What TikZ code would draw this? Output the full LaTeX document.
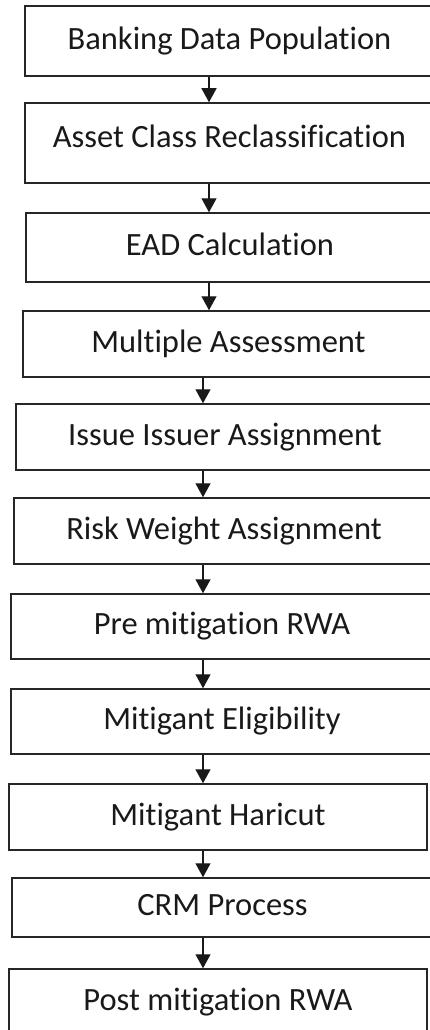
\documentclass[tikz,border=0pt]{standalone}
\usepackage{fontspec}
\setmainfont{Carlito}[Ligatures=NoCommon, Contextuals=NoAlternate]
\usetikzlibrary{arrows.meta}

\begin{document}
\begin{tikzpicture}[
    x=1pt, y=-1pt,
    stepblock/.style={
        rectangle,
        draw=black!85,
        line width=1.5pt,
        inner sep=0pt,
        align=center,
        text=black!90,
        font=\fontsize{32.5}{38}\selectfont,
        text height=20.5pt,
        text depth=4pt
    },
    flow line/.style={draw=black!90, line width=1.3pt,
        -{Triangle[width=15pt,length=14pt]}}
]

\useasboundingbox (0,0) rectangle (430,1030);

% Process steps
\node [stepblock, minimum width=409pt, minimum height=70pt] (banking) at (229.5,41) {Banking Data Population};
\node [stepblock, minimum width=409pt, minimum height=80pt, text depth=11pt] (asset) at (229.5,143) {Asset Class Reclassification};
\node [stepblock, minimum width=408pt, minimum height=69pt] (ead) at (230,247.5) {EAD Calculation};
\node [stepblock, minimum width=411pt, minimum height=66pt] (multiple) at (228.5,344) {Multiple Assessment};
\node [stepblock, minimum width=418pt, minimum height=66pt] (issuer) at (225,437) {Issue Issuer Assignment};
\node [stepblock, minimum width=420pt, minimum height=66pt] (riskweight) at (224,531) {Risk Weight Assignment};
\node [stepblock, minimum width=422pt, minimum height=65pt] (prerwa) at (222,626.5) {Pre mitigation RWA};
\node [stepblock, minimum width=422pt, minimum height=65pt] (eligibility) at (222,721.5) {Mitigant Eligibility};
\node [stepblock, minimum width=418pt, minimum height=66pt] (haircut) at (218,817) {Mitigant Haricut};
\node [stepblock, minimum width=421pt, minimum height=59pt] (crm) at (222.5,907.5) {CRM Process};
\node [stepblock, minimum width=418pt, minimum height=66pt] (postrwa) at (218,1002) {Post mitigation RWA};

% Arrow columns
\coordinate (spine top) at (209,0);
\coordinate (spine) at (203,0);

% Connections
\draw [flow line] (banking.south -| spine top) -- (asset.north -| spine top);
\draw [flow line] (asset.south -| spine top) -- (ead.north -| spine top);
\draw [flow line] (ead.south -| spine top) -- (multiple.north -| spine top);
\draw [flow line] (multiple.south -| spine) -- (issuer.north -| spine);
\draw [flow line] (issuer.south -| spine) -- (riskweight.north -| spine);
\draw [flow line] (riskweight.south -| spine) -- (prerwa.north -| spine);
\draw [flow line] (prerwa.south -| spine) -- (eligibility.north -| spine);
\draw [flow line] (eligibility.south -| spine) -- (haircut.north -| spine);
\draw [flow line] (haircut.south -| spine) -- (crm.north -| spine);
\draw [flow line] (crm.south -| spine) -- (postrwa.north -| spine);

\end{tikzpicture}
\end{document}
